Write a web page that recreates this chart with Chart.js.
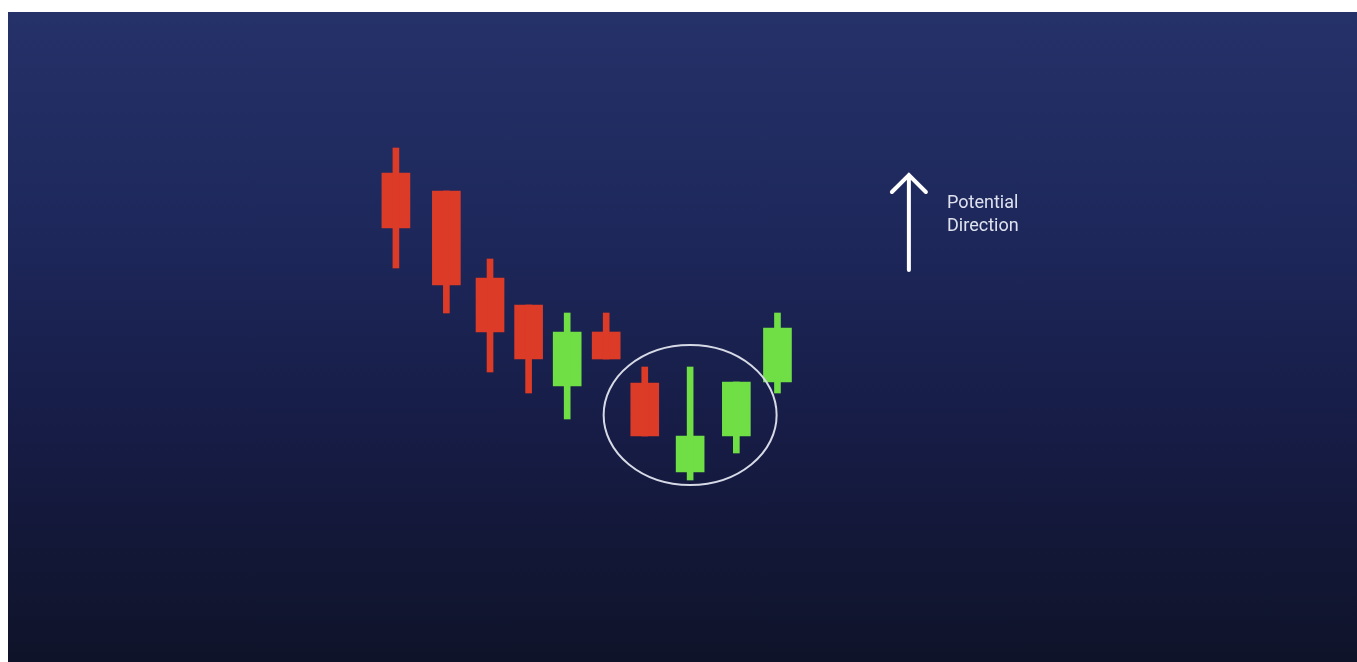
<!DOCTYPE html>
<html>
<head>
<meta charset="utf-8">
<script src="https://cdn.jsdelivr.net/npm/chart.js@4.4.0/dist/chart.umd.min.js"></script>
<style>
  html, body { margin: 0; padding: 0; background: #ffffff; }
  #wrap {
    position: absolute; left: 8px; top: 12px; width: 1349px; height: 650px;
    background: linear-gradient(to bottom, #253169 0%, #1d275a 35%, #161c45 65%, #0f1329 100%);
  }
</style>
</head>
<body>
<div id="wrap"><canvas id="chart" width="1349" height="650"></canvas></div>
<script>
  // time positions of each candle (uneven spacing as in the picture)
  const times  = [1, 2.19, 3.22, 4.13, 5.04, 5.96, 6.87, 7.94, 9.03, 10];
  const opens  = [48.9, 47.1, 38.4, 35.7, 27.6, 33.0, 27.9, 19.0, 22.6, 28.0];
  const closes = [43.4, 37.7, 33.0, 30.3, 33.0, 30.3, 22.6, 22.6, 28.0, 33.4];
  const highs  = [51.4, 47.1, 40.3, 35.7, 34.9, 34.9, 29.5, 29.5, 28.0, 34.9];
  const lows   = [39.4, 34.9, 29.0, 26.9, 24.3, 30.3, 22.6, 18.2, 20.9, 26.9];
  const noteLines = ["Potential", "Direction"];

  const RED = "#dc3b27";
  const GREEN = "#70de45";
  const colors = opens.map((o, i) => closes[i] >= o ? GREEN : RED);

  const wickData = times.map((t, i) => ({ x: t, y: [lows[i], highs[i]] }));
  const bodyData = times.map((t, i) => ({ x: t, y: [opens[i], closes[i]] }));

  // ellipse around the three bottom candles, arrow + label on the right
  const overlay = {
    id: "overlay",
    afterDatasetsDraw(chart) {
      const { ctx, scales: { x, y } } = chart;
      ctx.save();

      const cx = x.getPixelForValue(7.94), cy = y.getPixelForValue(24.7);
      const rx = x.getPixelForValue(7.94 + 2.04) - cx;
      const ry = y.getPixelForValue(24.7 - 7.0) - cy;
      ctx.strokeStyle = "#d6d9e6";
      ctx.lineWidth = 2;
      ctx.beginPath();
      ctx.ellipse(cx, cy, rx, ry, 0, 0, Math.PI * 2);
      ctx.stroke();

      const ax = x.getPixelForValue(13.1);
      const top = y.getPixelForValue(48.7), bot = y.getPixelForValue(39.2);
      ctx.strokeStyle = "#ffffff";
      ctx.lineWidth = 4;
      ctx.lineCap = "round";
      ctx.beginPath();
      ctx.moveTo(ax, bot);
      ctx.lineTo(ax, top);
      ctx.moveTo(ax - 17, top + 17);
      ctx.lineTo(ax, top);
      ctx.lineTo(ax + 17, top + 17);
      ctx.stroke();

      ctx.fillStyle = "#dfe2ee";
      ctx.font = "18px Roboto";
      ctx.textBaseline = "middle";
      const tx = x.getPixelForValue(14.0);
      noteLines.forEach((s, i) => ctx.fillText(s, tx, y.getPixelForValue(45.9) + i * 23));
      ctx.restore();
    }
  };

  new Chart(document.getElementById("chart"), {
    type: "bar",
    data: {
      datasets: [
        { data: wickData, backgroundColor: colors, barThickness: 6, grouped: false, borderWidth: 0 },
        { data: bodyData, backgroundColor: colors, barThickness: 28, grouped: false, borderWidth: 0 }
      ]
    },
    options: {
      responsive: false,
      animation: false,
      layout: { padding: 0 },
      plugins: { legend: { display: false }, tooltip: { enabled: false } },
      scales: {
        x: { type: "linear", min: -8.15, max: 23.67, offset: false, display: false },
        y: { min: 0, max: 65, display: false }
      }
    },
    plugins: [overlay]
  });
</script>
</body>
</html>
